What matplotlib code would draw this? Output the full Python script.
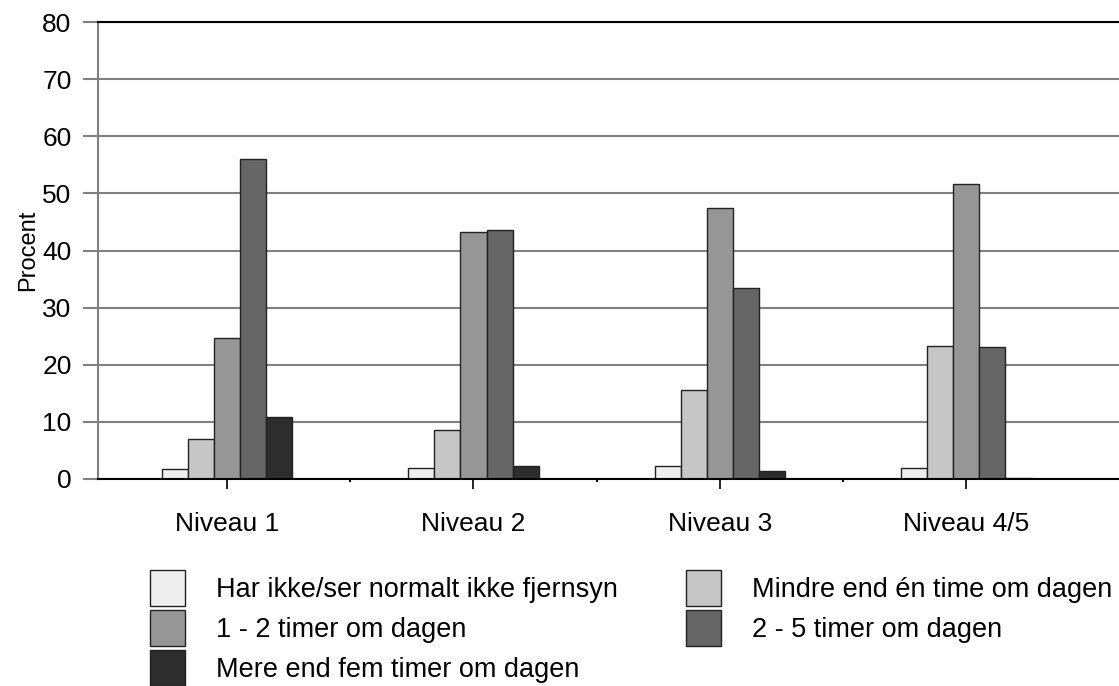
import numpy as np
import matplotlib
matplotlib.use('Agg')
import matplotlib.pyplot as plt

plt.rcParams['font.family'] = ['Liberation Sans', 'DejaVu Sans']

# Data
categories = ['Niveau 1', 'Niveau 2', 'Niveau 3', 'Niveau 4/5']
series_names = ['Har ikke/ser normalt ikke fjernsyn',
                'Mindre end én time om dagen',
                '1 - 2 timer om dagen',
                '2 - 5 timer om dagen',
                'Mere end fem timer om dagen']
har_ikke = [1.7, 2.0, 2.2, 2.0]
mindre_end_en = [7.0, 8.6, 15.5, 23.3]
en_to_timer = [24.7, 43.3, 47.5, 51.6]
to_fem_timer = [56.0, 43.6, 33.5, 23.1]
mere_end_fem = [10.8, 2.3, 1.4, 0.2]
yticks = [0, 10, 20, 30, 40, 50, 60, 70, 80]

series = [har_ikke, mindre_end_en, en_to_timer, to_fem_timer, mere_end_fem]
colors = ['#eeeeee', '#c6c6c6', '#969696', '#666666', '#2d2d2d']

fig = plt.figure(figsize=(11.19, 6.86), dpi=100)
ax = fig.add_axes([98 / 1119, (686 - 479) / 686, 1 - 98 / 1119, (479 - 22) / 686])

x = np.arange(len(categories))
width = 0.106
handles = []
for i, (vals, col) in enumerate(zip(series, colors)):
    b = ax.bar(x + (i - 2) * width, vals, width, color=col,
               edgecolor='#222222', linewidth=1.0, zorder=3)
    handles.append(b)

ax.set_ylim(0, 80)
ax.set_xlim(-0.524, 3.62)
ax.set_yticks(yticks)
ax.yaxis.grid(True, color='#808080', linewidth=1.5, zorder=0)
ax.axhline(80, color='black', linewidth=1.5, zorder=4, clip_on=False)

ax.spines['top'].set_visible(False)
ax.spines['right'].set_visible(False)
ax.spines['left'].set_color('#808080')
ax.spines['left'].set_linewidth(1.5)
ax.spines['bottom'].set_color('black')
ax.spines['bottom'].set_linewidth(1.5)
ax.spines['bottom'].set_zorder(5)

ax.set_xticks(x)
ax.set_xticklabels(categories, fontsize=19)
ax.set_xticks(x[:-1] + 0.5, minor=True)
ax.tick_params(axis='x', which='major', length=7, width=1.2, color='black', pad=17)
ax.tick_params(axis='x', which='minor', length=2, width=1.5, color='black')
ax.tick_params(axis='y', length=11, width=1.5, color='#808080', labelsize=19, pad=8)

ax.set_ylabel('Procent', fontsize=17, labelpad=2)

order = [0, 2, 4, 1, 3]
fig.legend([handles[i] for i in order], [series_names[i] for i in order],
           ncol=2, loc='upper left', bbox_to_anchor=(150 / 1119, 1 - 570 / 686),
           frameon=False, fontsize=19.5, handlelength=1.3, handleheight=1.66,
           handletextpad=1.15, columnspacing=2.5, labelspacing=0.15,
           borderaxespad=0, borderpad=0)

fig.savefig('out.png', dpi=100)
